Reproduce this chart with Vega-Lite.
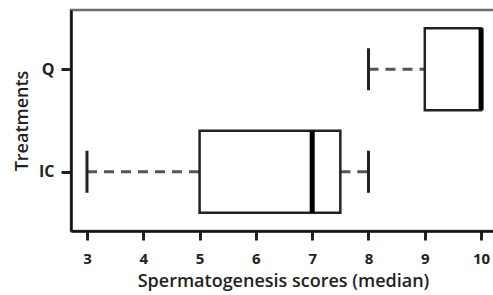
{
  "$schema": "https://vega.github.io/schema/vega-lite/v6.json",
  "autosize": "none",
  "width": 424,
  "height": 221,
  "padding": {"left": 71, "top": 10, "right": 0, "bottom": 64},
  "background": "white",
  "config": {
    "view": {"stroke": "#6e6e6e", "strokeWidth": 2.5},
    "axis": {"grid": false, "domainColor": "#111", "domainWidth": 2.5, "tickColor": "#222", "tickWidth": 3,
      "labelFont": "Open Sans", "labelFontWeight": "bold", "labelFontSize": 15, "labelColor": "#222",
      "titleFont": "Open Sans", "titleFontWeight": 600, "titleFontSize": 18, "titleColor": "#222"}
  },
  "data": {"values": [
    {"treatment": "Q", "min": 8, "q1": 9, "median": 10, "q3": 10, "max": 10},
    {"treatment": "IC", "min": 3, "q1": 5, "median": 7, "q3": 7.5, "max": 8}
  ]},
  "encoding": {
    "y": {"field": "treatment", "type": "nominal", "sort": ["Q", "IC"],
      "scale": {"type": "point", "padding": 0.578},
      "axis": {"title": "Treatments", "tickSize": 10, "labelPadding": 7, "titlePadding": 7, "labelFontSize": 16}}
  },
  "layer": [
    {
      "mark": {"type": "rule", "strokeDash": [10, 7], "strokeWidth": 3, "color": "#555"},
      "encoding": {
        "x": {"field": "min", "type": "quantitative",
          "scale": {"domain": [2.716, 10.247], "nice": false, "zero": false},
          "axis": {"title": "Spermatogenesis scores (median)", "values": [3,4,5,6,7,8,9,10], "format": "d", "tickSize": 9, "labelPadding": 11, "titlePadding": 6, "labelBound": false, "labelFlush": false}},
        "x2": {"field": "q1"}
      }
    },
    {
      "mark": {"type": "rule", "strokeDash": [10, 7], "strokeWidth": 3, "color": "#555"},
      "encoding": {"x": {"field": "q3", "type": "quantitative"}, "x2": {"field": "max"}}
    },
    {
      "mark": {"type": "tick", "orient": "vertical", "size": 42, "thickness": 3, "color": "#222", "opacity": 1},
      "encoding": {"x": {"field": "min", "type": "quantitative"}}
    },
    {
      "mark": {"type": "tick", "orient": "vertical", "size": 42, "thickness": 3, "color": "#222", "opacity": 1},
      "encoding": {"x": {"field": "max", "type": "quantitative"}}
    },
    {
      "mark": {"type": "bar", "size": 82, "fill": "white", "stroke": "#222", "strokeWidth": 2.5},
      "encoding": {"x": {"field": "q1", "type": "quantitative"}, "x2": {"field": "q3"}}
    },
    {
      "mark": {"type": "tick", "orient": "vertical", "size": 82, "thickness": 5, "color": "#000", "opacity": 1},
      "encoding": {"x": {"field": "median", "type": "quantitative"}}
    }
  ]
}
